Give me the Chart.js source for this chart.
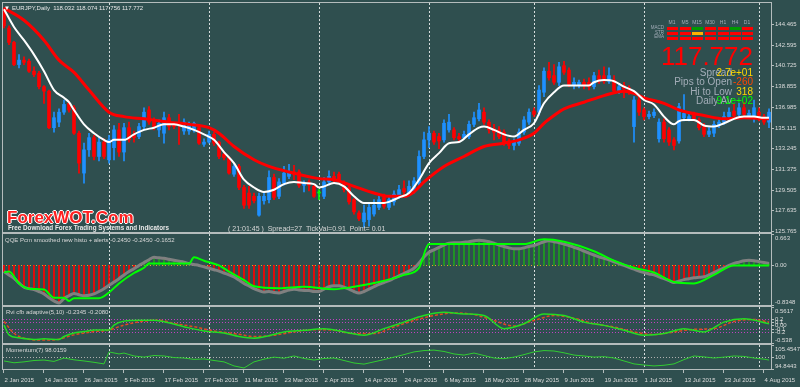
<!DOCTYPE html>
<html>
<head>
<meta charset="utf-8">
<title>EURJPY Daily</title>
<script src="https://cdn.jsdelivr.net/npm/chart.js@4.4.1/dist/chart.umd.min.js"></script>
<style>
  html, body { margin: 0; padding: 0; background: #2f4f4f; }
  #wrap { position: relative; width: 800px; height: 387px; overflow: hidden;
          font-family: "Liberation Sans", Arial, sans-serif; }
  canvas { position: absolute; left: 0; }
  .t { position: absolute; white-space: pre; line-height: 1; }
  .cell { position: absolute; width: 11px; height: 3px; background: #ff0000; }
  .hd { position: absolute; top: 19.5px; font-size: 5px; color: #a3adb8; line-height: 1; transform: translateX(-50%); }
  .rl { position: absolute; right: 136px; font-size: 4.5px; color: #a3adb8; line-height: 1; }
  .gl { position: absolute; right: 68px; font-size: 10px; color: #a3adb8; line-height: 1; white-space: pre; }
  .vl { position: absolute; right: 47px; font-size: 10px; line-height: 1; white-space: pre; }
</style>
</head>
<body>
<div id="wrap">
  <canvas id="cMain" width="800" height="240" style="top:0"></canvas>
  <canvas id="cQqe" width="800" height="83" style="top:228px"></canvas>
  <canvas id="cRvi" width="800" height="48" style="top:301px"></canvas>
  <canvas id="cMom" width="800" height="48" style="top:339px"></canvas>

  <div class="t" style="left:4px;top:5px;font-size:6px;color:#fff">▼</div>
  <div class="t" style="left:12px;top:5.4px;font-size:6px;color:#e6e6e6">EURJPY,Daily  118.032 118.074 117.756 117.772</div>

  <div class="t" style="left:7px;top:208.5px;font-size:17px;font-weight:bold;color:#ff2020;
       text-shadow:-1px 0 #fff,1px 0 #fff,0 -1px #fff,0 1px #fff">ForexWOT.Com</div>
  <div class="t" style="left:8px;top:225px;font-size:6.3px;font-weight:bold;color:#e8e8e8">Free Download Forex Trading Systems and Indicators</div>
  <div class="t" style="left:228px;top:224.5px;font-size:7px;color:#d8d8d8">( 21:01:45 )  Spread=27  TickVal=0.91  Point= 0.01</div>

  <div class="t" style="left:5px;top:237px;font-size:6px;color:#d8d8d8">QQE Pcm smoothed new histo + alerts -0.2450 -0.2450 -0.1652</div>
  <div class="t" style="left:6px;top:309px;font-size:6px;color:#d8d8d8">Rvi cfb adaptive(5,10) -0.2345 -0.2080</div>
  <div class="t" style="left:6px;top:346.5px;font-size:6px;color:#d8d8d8">Momentum(7) 98.0159</div>

  <div id="grid"></div>
  <div class="t" style="right:47px;top:43px;font-size:26px;color:#ff0000">117.772</div>
  <div class="gl" style="top:67.5px">Spread</div><div class="vl" style="top:67.5px;color:#ffd700">2.7e+01</div>
  <div class="gl" style="top:77px">Pips to Open</div><div class="vl" style="top:77px;color:#ff4500">-260</div>
  <div class="gl" style="top:86.5px">Hi to Low</div><div class="vl" style="top:86.5px;color:#ffd700">318</div>
  <div class="gl" style="top:96px">Daily Av</div><div class="vl" style="top:96px;color:#00ff00">9.1e+02</div>
</div>

<script>
// ---- price data (EURJPY daily, 2 Jan 2015 .. 5 Aug 2015) ----
const open = [145.6,144.1,142.8,140.8,141.2,141.1,140.2,140.0,138.8,138.4,
  135.1,135.6,136.5,137.3,136.9,134.6,131.0,133.1,134.2,132.5,
  133.8,132.2,133.3,134.9,132.9,135.1,134.5,134.3,135.2,136.7,
  135.8,134.9,134.6,136.0,135.4,135.4,134.8,134.8,134.9,135.1,
  133.6,133.8,134.5,133.8,132.7,132.4,130.9,131.6,129.7,129.2,
  128.9,127.2,128.5,128.6,130.6,128.9,130.1,130.7,131.1,131.1,
  129.9,130.2,129.8,129.2,128.9,130.2,130.7,130.9,130.1,129.7,
  128.6,127.4,126.6,126.8,127.3,127.9,128.8,127.9,128.4,128.9,
  129.6,129.2,129.4,130.1,132.5,134.0,134.6,134.3,134.0,134.9,
  134.9,134.3,134.2,134.3,135.4,135.9,136.5,135.6,135.0,134.9,
  134.7,133.9,133.5,133.7,134.7,135.6,136.6,136.5,138.3,140.2,
  139.8,139.2,140.7,140.3,138.9,138.9,139.2,139.2,138.8,139.8,
  139.8,139.3,139.4,138.4,138.9,138.7,135.2,137.6,136.7,136.1,
  136.2,134.1,135.6,134.9,134.0,133.9,136.0,135.8,136.3,135.8,
  135.3,134.5,134.6,135.3,135.6,136.1,136.6,136.3,136.9,136.2,
  136.2,136.5,136.1,135.6];
const close = [144.3,142.8,140.8,141.2,141.0,140.2,139.9,138.8,138.4,135.1,
  136.0,136.5,137.2,136.7,134.6,131.9,133.1,134.2,132.5,133.8,
  132.5,134.0,134.9,132.9,135.1,134.0,134.2,135.2,136.5,135.6,
  135.2,135.5,136.0,135.2,135.2,135.3,135.6,135.3,135.5,133.7,
  133.8,134.5,133.7,132.5,132.4,131.0,131.6,129.7,128.1,128.1,
  128.5,128.9,128.9,130.6,128.8,130.2,131.0,131.1,130.9,129.9,
  130.1,129.9,128.9,129.2,130.2,130.7,130.5,130.3,129.5,128.4,
  127.5,126.9,127.4,127.9,128.1,128.6,128.0,128.6,129.1,129.5,
  129.3,129.8,130.3,132.5,134.0,134.6,133.8,133.9,135.5,135.6,
  134.2,134.1,134.5,135.4,136.0,136.7,135.6,134.9,134.7,134.3,
  133.8,133.5,133.8,134.7,135.8,136.5,136.3,138.5,140.2,139.6,
  139.2,140.6,140.1,139.0,139.2,139.2,138.9,138.8,139.8,139.3,
  139.3,139.8,138.4,138.8,138.6,138.3,137.6,136.5,136.1,136.3,
  136.5,135.6,134.1,133.8,133.5,137.0,136.4,136.1,135.9,135.1,
  134.5,134.8,135.4,135.6,136.1,136.5,136.2,136.9,136.3,136.4,
  136.9,136.2,135.6,136.5];
const high = [145.9,144.3,142.9,141.7,141.5,141.3,140.6,140.2,138.9,138.5,
  136.5,136.8,137.6,137.5,137.1,134.8,133.7,134.6,134.4,134.2,
  134.1,134.4,135.3,135.5,135.5,135.6,134.8,135.5,136.9,137.0,
  136.0,135.8,136.5,136.3,135.5,136.3,135.9,135.6,135.6,135.3,
  134.1,134.8,134.7,133.9,132.9,132.5,131.8,131.8,129.9,129.8,
  129.2,129.2,129.3,131.2,130.9,130.5,131.6,131.8,131.7,131.3,
  130.3,130.4,130.0,129.5,130.6,131.2,131.1,131.1,130.3,129.8,
  128.7,127.6,128.1,128.3,128.6,129.0,129.1,128.9,129.4,129.9,
  130.3,130.3,130.6,133.0,134.7,135.2,134.8,134.6,135.8,136.3,
  135.1,134.6,134.8,135.7,136.5,137.3,136.9,135.8,135.4,135.2,
  134.9,134.1,134.1,135.0,136.1,136.8,136.9,138.9,140.5,141.0,
  140.8,141.0,141.1,140.5,139.6,139.4,139.5,139.6,140.1,140.3,
  140.6,140.5,139.8,139.1,139.2,138.9,137.9,137.9,136.9,136.6,
  136.8,135.9,135.9,135.1,134.2,137.3,138.1,136.3,136.5,136.0,
  135.5,135.1,135.7,135.9,136.5,136.9,137.2,137.3,137.4,136.7,
  137.6,136.9,136.3,136.8];
const low = [144.1,142.6,140.7,140.5,140.8,140.1,139.7,138.6,137.3,135.0,
  134.7,135.2,136.3,136.5,134.5,131.0,130.1,132.5,132.2,132.1,
  132.3,131.9,132.2,132.5,132.1,133.8,133.8,134.1,134.9,135.4,
  134.9,134.3,133.7,134.9,135.0,133.6,134.5,134.5,134.7,133.6,
  133.4,133.7,133.5,132.3,132.2,130.9,130.7,129.5,127.8,127.8,
  128.3,127.1,128.2,128.3,128.6,128.7,129.9,130.5,130.4,129.7,
  129.3,129.4,128.8,128.6,128.7,129.9,130.1,130.2,129.3,128.2,
  127.3,126.7,126.1,126.2,127.1,127.7,127.8,127.7,128.1,128.7,
  129.0,129.0,129.2,129.9,132.3,133.3,133.6,133.2,133.8,134.7,
  134.0,133.8,134.1,134.1,135.2,135.7,135.4,134.6,134.0,134.1,
  133.5,133.2,133.1,133.5,134.5,135.4,136.1,136.2,137.9,139.4,
  139.0,138.9,139.9,138.8,138.6,138.7,138.6,138.5,138.6,139.1,
  139.1,139.1,138.3,138.2,137.8,138.1,133.8,136.2,135.8,135.9,
  136.0,133.8,133.8,133.5,133.1,133.7,135.7,135.7,135.7,134.9,
  134.3,134.3,134.3,135.1,135.4,135.9,136.0,136.1,136.1,136.0,
  135.6,135.7,135.4,135.1];

// moving averages: [bar, price]
const emaFast = [[0,145.8],[2,144.2],[4,143.0],[6,141.7],[8,140.2],[10,138.5],[12,137.8],[13,137.4],
  [14,136.7],[16,135.4],[18,134.6],[20,134.0],[21,133.8],[22,134.0],[24,134.0],[26,134.5],[28,134.9],
  [30,135.1],[32,135.4],[34,135.4],[36,135.2],[38,134.9],[40,134.5],[42,134.0],[44,132.9],[46,131.9],
  [48,130.4],[50,129.7],[52,129.3],[54,129.5],[56,130.0],[58,130.2],[60,130.1],[62,130.0],[63,129.7],
  [64,129.8],[66,130.1],[68,129.8],[70,128.9],[72,128.3],[74,128.3],[76,128.3],[77,128.4],[79,128.8],
  [81,129.2],[83,130.4],[85,131.9],[87,132.8],[89,133.7],[91,133.8],[93,134.5],[95,135.1],[96,135.2],
  [98,134.9],[100,134.5],[102,134.3],[104,134.9],[106,135.5],[108,137.3],[110,138.3],[112,138.9],
  [114,138.9],[117,138.9],[118,139.2],[120,139.4],[122,139.3],[124,138.8],[126,138.4],[128,137.6],
  [130,137.2],[132,136.1],[134,135.4],[135,135.7],[136,135.8],[138,135.8],[140,135.3],[142,135.2],
  [144,135.5],[146,135.9],[148,136.1],[150,136.1],[152,136.0],[153,136.0]];
const emaSlow = [[0,145.9],[4,144.8],[8,143.0],[11,141.2],[14,140.1],[17,138.5],[21,136.5],[24,136.1],
  [28,135.9],[33,135.6],[37,135.4],[41,135.1],[43,134.6],[46,133.4],[50,132.2],[53,131.6],[57,131.1],
  [63,130.5],[66,130.4],[70,129.8],[74,129.2],[77,128.9],[80,128.9],[82,129.3],[84,130.2],[88,131.6],
  [92,132.5],[96,133.4],[100,133.7],[103,134.0],[106,134.6],[108,135.5],[110,136.2],[112,136.8],
  [116,137.4],[120,138.0],[124,138.4],[126,138.2],[128,137.8],[132,137.3],[135,136.7],[140,136.2],
  [144,135.9],[148,136.0],[153,135.9]];

// QQE histogram (one value per bar) and its trailing line
const qqe = [-0.13,-0.2,-0.27,-0.37,-0.46,-0.49,-0.51,-0.55,-0.6,-0.68,
  -0.75,-0.79,-0.7,-0.64,-0.59,-0.62,-0.64,-0.63,-0.6,-0.55,
  -0.49,-0.42,-0.35,-0.28,-0.2,-0.13,-0.07,0.0,0.06,0.12,
  0.17,0.16,0.15,0.13,0.11,0.09,0.07,0.04,0.02,0.0,
  -0.03,-0.06,-0.09,-0.12,-0.16,-0.2,-0.24,-0.31,-0.38,-0.43,
  -0.49,-0.53,-0.56,-0.55,-0.57,-0.58,-0.55,-0.52,-0.5,-0.52,
  -0.53,-0.53,-0.55,-0.55,-0.5,-0.45,-0.43,-0.43,-0.46,-0.5,
  -0.55,-0.58,-0.55,-0.5,-0.45,-0.4,-0.36,-0.32,-0.27,-0.22,
  -0.17,-0.12,-0.06,0.05,0.18,0.28,0.33,0.38,0.43,0.47,
  0.48,0.48,0.49,0.5,0.52,0.53,0.52,0.5,0.47,0.43,
  0.4,0.37,0.35,0.35,0.37,0.4,0.42,0.46,0.5,0.52,
  0.5,0.48,0.45,0.42,0.38,0.35,0.3,0.26,0.22,0.18,
  0.15,0.12,0.08,0.04,0.0,-0.04,-0.08,-0.12,-0.15,-0.18,
  -0.2,-0.24,-0.28,-0.32,-0.36,-0.33,-0.3,-0.28,-0.26,-0.25,
  -0.24,-0.2,-0.15,-0.1,-0.05,0.0,0.04,0.07,0.1,0.11,
  0.1,0.08,0.06,0.04];
const qqeTrail = [[0,-0.15],[1,-0.13],[3,-0.38],[5,-0.49],[8,-0.51],[10,-0.68],[12,-0.68],[13,-0.75],
  [14,-0.69],[19,-0.69],[21,-0.57],[23,-0.38],[26,-0.16],[28,-0.05],[29,0.04],[37,0.04],[38,0.17],
  [40,0.1],[43,0.0],[45,-0.13],[48,-0.31],[50,-0.44],[55,-0.48],[60,-0.45],[66,-0.5],[70,-0.45],
  [75,-0.35],[80,-0.2],[83,-0.05],[85,0.45],[100,0.45],[104,0.45],[108,0.55],[112,0.5],[118,0.3],
  [122,0.1],[126,-0.05],[130,-0.15],[134,-0.35],[138,-0.38],[142,-0.2],[146,0.0],[153,0.0]];

// RVI lines
const rviMain = [[0,0.01],[1,-0.29],[3,-0.38],[6,-0.43],[8,-0.41],[11,-0.43],[12,-0.34],[14,-0.23],
  [16,-0.19],[18,-0.14],[21,-0.14],[22,0.01],[24,0.13],[27,0.16],[30,0.16],[32,0.11],[36,-0.04],
  [40,-0.17],[44,-0.23],[47,-0.34],[50,-0.39],[52,-0.35],[56,-0.2],[60,-0.15],[64,-0.1],[68,-0.2],
  [72,-0.3],[76,-0.1],[80,0.1],[84,0.3],[88,0.4],[92,0.35],[96,0.3],[100,-0.1],[104,0.05],[108,0.35],
  [112,0.3],[116,0.1],[120,0.0],[124,-0.15],[128,-0.3],[132,-0.25],[136,-0.1],[140,-0.2],[144,0.1],
  [148,0.2],[153,0.05]];
const rviSignal = [[0,0.12],[2,-0.24],[4,-0.39],[8,-0.45],[11,-0.42],[14,-0.29],[18,-0.19],[21,-0.14],
  [24,0.01],[28,0.13],[31,0.16],[34,0.06],[38,-0.04],[42,-0.17],[47,-0.27],[50,-0.34],[54,-0.3],
  [58,-0.2],[62,-0.13],[66,-0.15],[70,-0.25],[74,-0.25],[78,-0.05],[82,0.15],[86,0.3],[90,0.38],
  [94,0.33],[98,0.15],[102,-0.02],[106,0.15],[110,0.3],[114,0.22],[118,0.05],[122,-0.05],[126,-0.2],
  [130,-0.28],[134,-0.2],[138,-0.12],[142,-0.1],[146,0.12],[150,0.18],[153,0.1]];

// Momentum(7)
const momentum = [[0,98.4],[2,97.6],[4,98.0],[6,98.6],[8,98.8],[10,98.2],[12,99.7],[14,98.9],[16,98.4],
  [18,97.8],[20,97.1],[21,102.4],[23,101.5],[24,101.9],[26,100.6],[28,100.1],[30,100.8],[32,100.6],
  [34,99.9],[36,99.7],[38,99.1],[40,99.3],[42,98.6],[44,98.0],[46,96.2],[48,95.3],[50,98.0],[52,99.2],
  [54,100.1],[56,99.6],[58,100.6],[60,99.5],[62,98.8],[64,99.5],[66,99.7],[68,98.6],[70,97.5],
  [72,97.0],[74,98.0],[76,99.0],[78,100.1],[80,101.2],[82,102.4],[84,103.0],[86,103.2],[88,102.6],
  [90,101.5],[92,101.0],[94,101.9],[96,100.8],[98,99.7],[100,99.4],[102,100.1],[104,101.2],
  [106,102.4],[108,103.0],[110,102.8],[112,102.0],[114,101.0],[116,100.6],[118,100.1],[120,100.3],
  [122,99.7],[124,98.4],[126,97.1],[128,96.6],[130,96.2],[132,96.5],[134,97.1],[136,99.0],
  [138,100.6],[140,100.2],[142,99.7],[144,100.1],[146,100.6],[148,100.4],[150,99.7],[152,99.2],[153,98.8]];

// axis labels
const priceTicks = [144.465,142.595,140.725,138.855,136.985,135.115,133.245,131.375,129.505,127.635,125.765];
const qqeTicks = [0.663, 0, -0.8348];
const qqeTickText = ["0.663", "0.00", "-0.8348"];
const rviTicks = [0.5617, 0.2, 0.1, 0, -0.1, -0.2, -0.538];
const rviTickText = ["0.5617", "0.2", "0.1", "0.00", "-0.1", "-0.2", "-0.538"];
const momTicks = [105.4547, 100, 94.8443];
const momTickText = ["105.4547", "100", "94.8443"];
const dateBars = [0,8,16,24,32,40,48,56,64,72,80,88,96,104,112,120,128,136,144,152];
const dateLabels = ["2 Jan 2015","14 Jan 2015","26 Jan 2015","5 Feb 2015","17 Feb 2015","27 Feb 2015",
  "11 Mar 2015","23 Mar 2015","2 Apr 2015","14 Apr 2015","24 Apr 2015","6 May 2015","18 May 2015",
  "28 May 2015","9 Jun 2015","19 Jun 2015","1 Jul 2015","13 Jul 2015","23 Jul 2015","4 Aug 2015"];
const monthStarts = [21, 41, 63, 85, 106, 128, 151];

// info panel: MACD / STR / EMA per timeframe
const frames = ["M1","M5","M15","M30","H1","H4","D1"];
const rows = ["MACD","STR","EMA"];
const signal = [
  ["r","r","g","r","r","g","r"],
  ["r","r","o","r","r","r","r"],
  ["r","r","r","r","r","r","r"]];

const BULL = "#1e90ff", BEAR = "#ff0000", DOJI = "#00ff00";
const GRID = "#d8dede", FRAME = "#b4bcbc", TEXT = "#dcdcdc";
const X_MIN = -0.2, X_MAX = 153.4;

const candleColor = i => close[i] > open[i] ? BULL : close[i] < open[i] ? BEAR : DOJI;

const mtPanel = {
  id: "mtPanel",
  beforeDatasetsDraw(chart, _a, o) {
    const { ctx, chartArea: a, scales: { x, y } } = chart;
    ctx.save();
    ctx.lineWidth = 1;
    (o.levels || []).forEach(l => {
      const py = Math.round(y.getPixelForValue(l.v)) + 0.5;
      ctx.strokeStyle = l.color;
      ctx.setLineDash(l.dash);
      ctx.beginPath(); ctx.moveTo(a.left, py); ctx.lineTo(a.right, py); ctx.stroke();
    });
    ctx.strokeStyle = GRID;
    ctx.setLineDash([2, 2]);
    monthStarts.forEach(b => {
      const px = Math.round(x.getPixelForValue(b)) + 0.5;
      ctx.beginPath(); ctx.moveTo(px, a.top); ctx.lineTo(px, a.bottom); ctx.stroke();
    });
    ctx.restore();
  },
  afterDraw(chart, _a, o) {
    const { ctx, chartArea: a, scales: { x, y } } = chart;
    ctx.save();
    ctx.strokeStyle = FRAME;
    ctx.lineWidth = 1;
    ctx.strokeRect(a.left - 0.5, a.top - 0.5, a.right - a.left + 1, a.bottom - a.top + 1);
    ctx.font = '6px "Liberation Sans", Arial';
    ctx.fillStyle = TEXT;
    ctx.textAlign = "left";
    o.ticks.forEach((v, k) => {
      const ty = Math.round(y.getPixelForValue(v)) + 0.5;
      let py = ty, base = "middle";
      if (v === y.max) { base = "top"; py = a.top + 1; }
      else if (v === y.min) { base = "bottom"; py = a.bottom; }
      ctx.textBaseline = base;
      ctx.fillText(o.text ? o.text[k] : v.toFixed(3), a.right + 4, py);
      ctx.beginPath(); ctx.moveTo(a.right, ty); ctx.lineTo(a.right + 3, ty); ctx.stroke();
    });
    if (o.dates) {
      ctx.textBaseline = "alphabetic";
      dateBars.forEach((b, k) => {
        const px = Math.round(x.getPixelForValue(b)) - 0.5;
        ctx.beginPath(); ctx.moveTo(px, a.bottom + 1); ctx.lineTo(px, a.bottom + 4); ctx.stroke();
        ctx.fillText(dateLabels[k], px + 1, a.bottom + 13);
      });
    }
    ctx.restore();
  }
};

const xScale = { type: "linear", min: X_MIN, max: X_MAX, display: false, offset: false };
const baseOpts = (pad, yMin, yMax, panel) => ({
  responsive: false,
  animation: false,
  devicePixelRatio: 1,
  layout: { padding: { left: 3, right: 29, top: pad[0], bottom: pad[1] } },
  scales: { x: xScale, y: { min: yMin, max: yMax, display: false } },
  plugins: { legend: { display: false }, tooltip: { enabled: false }, mtPanel: panel },
});

const lineDs = (data, color, width, extra) => Object.assign({
  type: "line", data, borderColor: color, borderWidth: width, pointRadius: 0,
  fill: false, cubicInterpolationMode: "monotone", order: 0,
}, extra || {});

// main price chart
new Chart(document.getElementById("cMain"), {
  type: "bar",
  data: {
    datasets: [
      lineDs(emaFast, "#ffffff", 2),
      lineDs(emaSlow, "#ff0000", 3),
      { data: open.map((o, i) => ({ x: i, y: [Math.min(o, close[i]), Math.max(o, close[i])] })),
        backgroundColor: c => candleColor(c.dataIndex), barThickness: 3, minBarLength: 1,
        grouped: false, order: 1 },
      { data: open.map((o, i) => ({ x: i, y: [low[i], high[i]] })),
        backgroundColor: c => candleColor(c.dataIndex), barThickness: 1,
        grouped: false, order: 2 },
    ],
  },
  options: baseOpts([3, 8], 125.68, 146.36, { ticks: priceTicks }),
  plugins: [mtPanel],
});

// QQE
new Chart(document.getElementById("cQqe"), {
  type: "bar",
  data: {
    datasets: [
      lineDs(qqeTrail, "#00ff00", 2),
      lineDs(qqe.map((v, i) => [i, v]), "#808080", 3, { order: 1 }),
      { data: qqe.map((v, i) => ({ x: i, y: v })), barThickness: 1, grouped: false, order: 2,
        backgroundColor: c => qqe[c.dataIndex] < 0 ? "#ff0000" : "#1fa01f" },
    ],
  },
  options: baseOpts([6, 6], -0.8348, 0.663, {
    ticks: qqeTicks, text: qqeTickText,
    levels: [{ v: 0, color: "#e0a030", dash: [1, 2] }],
  }),
  plugins: [mtPanel],
});

// RVI
new Chart(document.getElementById("cRvi"), {
  type: "line",
  data: {
    datasets: [
      lineDs(rviMain, "#22dd22", 1.5),
      lineDs(rviSignal, "#e04a20", 1.5, { borderDash: [3, 2] }),
    ],
  },
  options: baseOpts([6, 6], -0.538, 0.5617, {
    ticks: rviTicks, text: rviTickText,
    levels: [0.2, 0.1, -0.1, -0.2].map(v => ({ v, color: "#c040c0", dash: [1, 2] })),
  }),
  plugins: [mtPanel],
});

// Momentum
new Chart(document.getElementById("cMom"), {
  type: "line",
  data: { datasets: [lineDs(momentum, "#32cd32", 1, { cubicInterpolationMode: "default", tension: 0 })] },
  options: baseOpts([6, 18], 94.8443, 105.4547, {
    ticks: momTicks, text: momTickText, dates: true,
    levels: [{ v: 100, color: "#b0b0b0", dash: [1, 2] }],
  }),
  plugins: [mtPanel],
});

// info panel grid
const gridEl = document.getElementById("grid");
const colX = [672, 685, 697, 710, 723, 735, 747];
const cellColor = { r: "#ff0000", g: "#009a00", o: "#ffb000" };
frames.forEach((f, c) => {
  const h = document.createElement("div");
  h.className = "hd"; h.style.left = colX[c] + "px"; h.textContent = f;
  gridEl.appendChild(h);
});
rows.forEach((r, k) => {
  const l = document.createElement("div");
  l.className = "rl"; l.style.top = (26 + k * 4.7) + "px"; l.textContent = r;
  gridEl.appendChild(l);
  signal[k].forEach((s, c) => {
    const d = document.createElement("div");
    d.className = "cell";
    d.style.left = (colX[c] - 5.5) + "px";
    d.style.top = (27.3 + k * 4.7) + "px";
    d.style.background = cellColor[s];
    gridEl.appendChild(d);
  });
});
</script>
</body>
</html>
